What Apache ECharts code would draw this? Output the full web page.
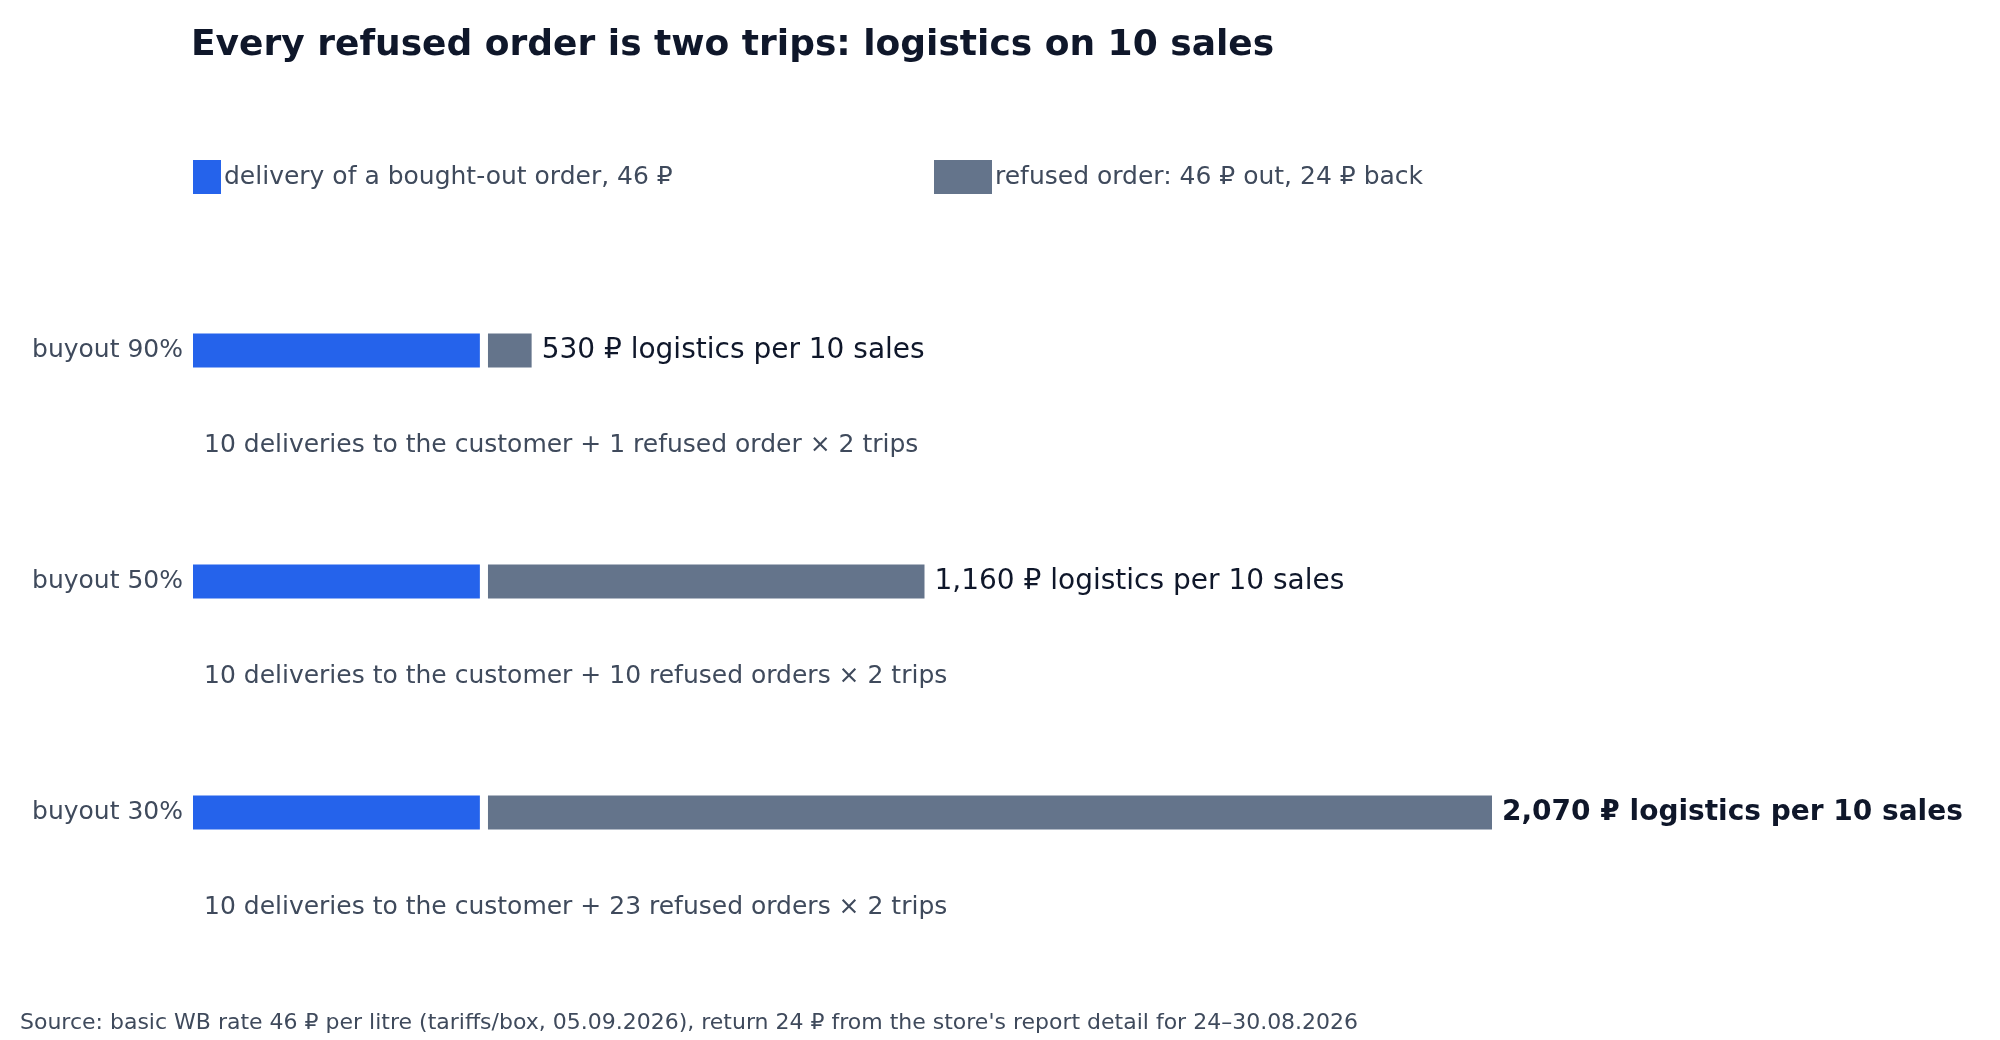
<!DOCTYPE html>
<html><head><meta charset="utf-8">
<script src="https://cdn.jsdelivr.net/npm/echarts@6/dist/echarts.min.js"></script>
<style>html,body{margin:0;padding:0;background:#fff}#c{width:2000px;height:1040px}</style>
</head><body><div id="c"></div>
<script>
const categories = ['buyout 90%', 'buyout 50%', 'buyout 30%'];
const deliveryValues = [460, 460, 460];
const refusedValues = [70, 700, 1610];
const totalLabels = ['530 ₽ logistics per 10 sales', '1,160 ₽ logistics per 10 sales', '2,070 ₽ logistics per 10 sales'];
const notes = ['10 deliveries to the customer + 1 refused order × 2 trips',
  '10 deliveries to the customer + 10 refused orders × 2 trips',
  '10 deliveries to the customer + 23 refused orders × 2 trips'];
const GAP = 13;
const FONT = 'DejaVu Sans';
const chart = echarts.init(document.getElementById('c'));
chart.setOption({
  animation: false,
  textStyle: {fontFamily: FONT},
  title: {text: 'Every refused order is two trips: logistics on 10 sales', left: 186, top: 23,
    textStyle: {fontFamily: FONT, fontSize: 36, fontWeight: 'bold', color: '#0f172a'}},
  legend: [
    {data: ['delivery of a bought-out order, 46 ₽'], left: 188, top: 155, itemWidth: 28, itemHeight: 34, icon: 'rect', itemGap: 4,
      textStyle: {fontFamily: FONT, fontSize: 25, color: '#3f4a5c', padding: [0,0,0,-2]}},
    {data: ['refused order: 46 ₽ out, 24 ₽ back'], left: 929, top: 155, itemWidth: 58, itemHeight: 34, icon: 'rect',
      textStyle: {fontFamily: FONT, fontSize: 25, color: '#3f4a5c', padding: [0,0,0,-2]}}
  ],
  grid: {left: 193, right: 508, top: 235, bottom: 112},
  xAxis: {type: 'value', min: 0, max: 2070 + GAP, show: false},
  yAxis: {type: 'category', data: categories, inverse: true, axisLine: {show: false}, axisTick: {show: false},
    axisLabel: {fontFamily: FONT, fontSize: 25, color: '#3f4a5c', margin: 10}},
  series: [
    {name: 'delivery of a bought-out order, 46 ₽', type: 'bar', stack: 's', barWidth: 34, data: deliveryValues,
      itemStyle: {color: '#2563eb'}},
    {name: 'gap', type: 'bar', stack: 's', data: categories.map(() => GAP), itemStyle: {color: 'rgba(0,0,0,0)'}, silent: true},
    {name: 'refused order: 46 ₽ out, 24 ₽ back', type: 'bar', stack: 's', data: refusedValues,
      itemStyle: {color: '#64748b'},
      label: {show: true, position: 'right', distance: 10, fontFamily: FONT, fontSize: 28, color: '#0f172a',
        formatter: p => p.dataIndex === 2 ? '{b|' + totalLabels[p.dataIndex] + '}' : totalLabels[p.dataIndex],
        rich: {b: {fontFamily: FONT, fontSize: 28, fontWeight: 'bold', color: '#0f172a'}}}}
  ]
});
const g = [];
categories.forEach((c, i) => {
  const p = chart.convertToPixel({xAxisIndex: 0, yAxisIndex: 0}, [0, c]);
  g.push({type: 'text', left: p[0] + 11, top: p[1] + 96 - 14,
    style: {text: notes[i], font: '25px "DejaVu Sans"', fill: '#3f4a5c'}});
});
g.push({type: 'text', left: 20, top: 1012,
  style: {text: "Source: basic WB rate 46 ₽ per litre (tariffs/box, 05.09.2026), return 24 ₽ from the store's report detail for 24–30.08.2026",
    font: '22px "DejaVu Sans"', fill: '#3f4a5c'}});
chart.setOption({graphic: g});
</script></body></html>
